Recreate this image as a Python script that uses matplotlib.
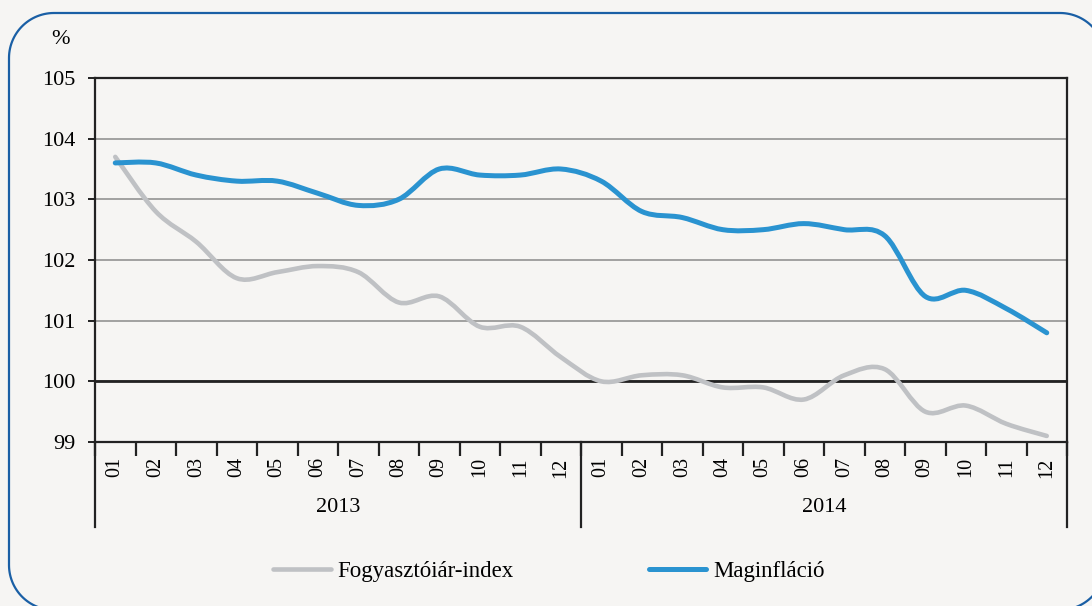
import numpy as np
import matplotlib
matplotlib.use("Agg")
import matplotlib.pyplot as plt
from matplotlib.path import Path
from matplotlib.patches import PathPatch
from matplotlib.lines import Line2D
import matplotlib.transforms as mtransforms

plt.rcParams['font.family'] = ['Liberation Serif', 'DejaVu Serif']

# data
months = ['01', '02', '03', '04', '05', '06', '07', '08', '09', '10', '11', '12'] * 2
years = ['2013', '2014']
cpi = [103.7, 102.8, 102.3, 101.7, 101.8, 101.9, 101.8, 101.3, 101.4, 100.9, 100.9, 100.4,
       100.0, 100.1, 100.1, 99.9, 99.9, 99.7, 100.1, 100.2, 99.5, 99.6, 99.3, 99.1]
core = [103.6, 103.6, 103.4, 103.3, 103.3, 103.1, 102.9, 103.0, 103.5, 103.4, 103.4, 103.5,
        103.3, 102.8, 102.7, 102.5, 102.5, 102.6, 102.5, 102.4, 101.4, 101.5, 101.2, 100.8]
labels = ['Fogyasztóiár-index', 'Maginfláció']

bg = '#f6f5f3'
c_cpi = '#bfc1c4'
c_core = '#2a93d0'


def smooth_path(xs, ys):
    # Excel-like smoothed line as cubic bezier through the points
    n = len(xs)
    verts = [(xs[0], ys[0])]
    codes = [Path.MOVETO]
    for i in range(n - 1):
        a = max(i - 1, 0)
        b = min(i + 2, n - 1)
        c1 = (xs[i] + (xs[i + 1] - xs[a]) / 6, ys[i] + (ys[i + 1] - ys[a]) / 6)
        c2 = (xs[i + 1] - (xs[b] - xs[i]) / 6, ys[i + 1] - (ys[b] - ys[i]) / 6)
        verts += [c1, c2, (xs[i + 1], ys[i + 1])]
        codes += [Path.CURVE4] * 3
    return Path(verts, codes)


def rounded_rect(x0, y0, x1, y1, r):
    # closed rounded rectangle outline (pixel coords, y up)
    pts = []
    for cx, cy, a0 in [(x1 - r, y1 - r, 0), (x0 + r, y1 - r, 90),
                       (x0 + r, y0 + r, 180), (x1 - r, y0 + r, 270)]:
        t = np.radians(np.linspace(a0, a0 + 90, 30))
        pts += list(zip(cx + r * np.cos(t), cy + r * np.sin(t)))
    pts.append(pts[0])
    return Path(pts)


W, H = 1092, 606
fig = plt.figure(figsize=(W / 100, H / 100), dpi=100)
fig.patch.set_facecolor(bg)

# rounded frame, given in pixels
px = mtransforms.Affine2D().scale(1 / W, 1 / H) + fig.transFigure
frame = PathPatch(rounded_rect(9, H - 610, 1105, H - 13, 45), transform=px,
                  facecolor='none', edgecolor='#1a5fa5', lw=1.6)
fig.patches.append(frame)

ax = fig.add_axes([95 / W, 1 - 442 / H, (1067 - 95) / W, (442 - 78) / H])
ax.set_facecolor(bg)

x = np.arange(len(cpi))
ax.add_patch(PathPatch(smooth_path(x, cpi), fill=False, edgecolor=c_cpi, lw=3.3,
                       capstyle='round', joinstyle='round', zorder=3))
ax.add_patch(PathPatch(smooth_path(x, core), fill=False, edgecolor=c_core, lw=3.6,
                       capstyle='round', joinstyle='round', zorder=4))

ax.set_xlim(-0.5, len(cpi) - 0.5)
ax.set_ylim(99, 105)
ax.set_yticks(range(99, 106))
ax.yaxis.grid(True, color='#8a8a8a', lw=1.1)
ax.set_axisbelow(True)
ax.axhline(100, color='#222222', lw=2.0, zorder=2)

for s in ax.spines.values():
    s.set_color('#222222')
    s.set_linewidth(1.6)

ax.tick_params(axis='y', direction='out', length=5, width=1.4, color='#222222',
               labelsize=16, pad=9)
ax.set_xticks(x)
ax.set_xticklabels(months, rotation=90, fontsize=14.5, va='top')
ax.set_xticks(np.arange(-0.5, len(cpi)), minor=True)
ax.tick_params(axis='x', which='major', length=0, pad=11)
ax.tick_params(axis='x', which='minor', length=10, width=1.6, color='#222222')

# year groups under the months
trans = mtransforms.blended_transform_factory(ax.transData, ax.transAxes)
for xb in [-0.5, 11.5, 23.5]:
    ax.plot([xb, xb], [0, -85 / 364], color='#222222', lw=1.6,
            transform=trans, clip_on=False)
for i, yr in enumerate(years):
    ax.text(5.5 + 12 * i, -66 / 364, yr, transform=trans, ha='center', va='center',
            fontsize=16)

fig.text(61 / W, 1 - 40 / H, '%', ha='center', va='center', fontsize=16)

handles = [Line2D([], [], color=c_cpi, lw=3.3, solid_capstyle='round'),
           Line2D([], [], color=c_core, lw=3.6, solid_capstyle='round')]
fig.legend(handles, labels, loc='center', bbox_to_anchor=(549 / W, 1 - 571 / H),
           ncol=2, frameon=False, fontsize=16.5, handlelength=2.5,
           handletextpad=0.3, columnspacing=5.9)

fig.savefig('out.png', dpi=100, facecolor=bg)
